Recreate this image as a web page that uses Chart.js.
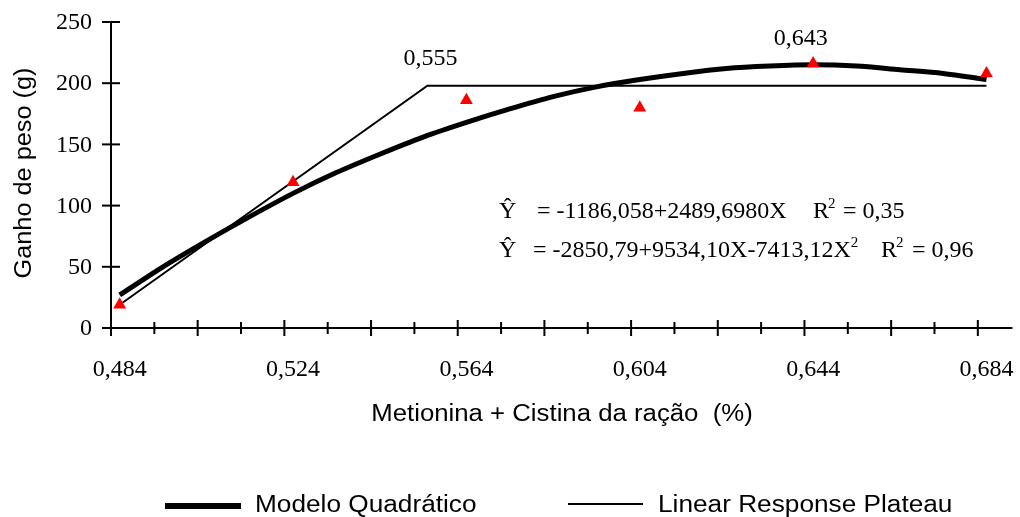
<!DOCTYPE html>
<html>
<head>
<meta charset="utf-8">
<script src="https://cdn.jsdelivr.net/npm/chart.js@4.4.0/dist/chart.umd.min.js"></script>
<style>
  body { margin: 0; background: #fff; }
  canvas { display: block; }
</style>
</head>
<body>
<canvas id="ganhoChart" width="1020" height="517"></canvas>
<script>
// --- dados ---
// níveis de Met+Cis na ração (%) e ganho de peso observado (g)
const niveis = [0.484, 0.524, 0.564, 0.604, 0.644, 0.684];
const ganhoObs = [19, 119, 186, 180, 216, 208];

// curva do modelo quadrático
const quadX = [0.484, 0.494, 0.504, 0.514, 0.524, 0.534, 0.544, 0.554, 0.564, 0.574, 0.584,
               0.594, 0.604, 0.614, 0.624, 0.634, 0.644, 0.654, 0.664, 0.674, 0.684];
const quadY = [27, 50, 71, 91, 110, 127, 142, 156, 168, 179, 189,
               197, 203, 208, 212, 214, 215, 214, 211, 208, 203];

// linear response plateau
const lrpX = [0.484, 0.555, 0.684];
const lrpY = [19, 198, 198];

// rótulos dos eixos
const xLabels = ['0,484', '0,524', '0,564', '0,604', '0,644', '0,684'];
const yTicks = [0, 50, 100, 150, 200, 250];

const SERIF = "'Liberation Serif', 'Times New Roman', serif";
const SANS = "'Liberation Sans', Arial, sans-serif";

const toPoints = (xs, ys) => xs.map((x, i) => ({ x: x, y: ys[i] }));

// texto sans um pouco alargado na horizontal
function textoLargo(ctx, txt, x, y, sx) {
    ctx.save();
    ctx.translate(x, y);
    ctx.scale(sx, 1);
    ctx.fillText(txt, 0, 0);
    ctx.restore();
}

// eixos, marcas, textos e legenda desenhados à mão
const desenhoExtra = {
    id: 'desenhoExtra',
    beforeDatasetsDraw(chart) {
        const { ctx, chartArea: a, scales: { x, y } } = chart;
        ctx.save();
        ctx.strokeStyle = '#000';
        ctx.lineWidth = 2;

        // eixo y
        const x0 = x.getPixelForValue(x.min);
        ctx.beginPath();
        ctx.moveTo(x0, y.getPixelForValue(250));
        ctx.lineTo(x0, y.getPixelForValue(0));
        ctx.stroke();
        yTicks.forEach(v => {
            const py = y.getPixelForValue(v);
            ctx.beginPath();
            ctx.moveTo(x0 - 9, py);
            ctx.lineTo(x0 + 9, py);
            ctx.stroke();
        });

        // eixo x
        const y0 = y.getPixelForValue(0);
        ctx.beginPath();
        ctx.moveTo(x0, y0);
        ctx.lineTo(a.right, y0);
        ctx.stroke();
        for (let k = 0; k <= 20; k++) {
            const px = x.getPixelForValue(0.482 + k * 0.01);
            const len = k % 2 === 0 ? 8 : 6;
            ctx.beginPath();
            ctx.moveTo(px, y0 - len);
            ctx.lineTo(px, y0 + len);
            ctx.stroke();
        }
        ctx.restore();
    },
    afterDraw(chart) {
        const { ctx, scales: { x, y } } = chart;
        ctx.save();
        ctx.fillStyle = '#000';

        // rótulos do eixo y
        ctx.font = '24px ' + SERIF;
        ctx.textAlign = 'right';
        ctx.textBaseline = 'middle';
        yTicks.forEach(v => ctx.fillText(String(v), 92, y.getPixelForValue(v) + 1));

        // rótulos do eixo x
        ctx.textAlign = 'center';
        ctx.textBaseline = 'alphabetic';
        niveis.forEach((v, i) => ctx.fillText(xLabels[i], x.getPixelForValue(v), 376));

        // pontos de máximo/plateau
        ctx.fillText('0,555', x.getPixelForValue(0.555) + 3, y.getPixelForValue(198) - 21);
        ctx.fillText('0,643', x.getPixelForValue(0.643) - 8, y.getPixelForValue(215) - 20);

        // equações
        ctx.textAlign = 'left';
        const sup = (txt, px, py) => {
            ctx.font = '15px ' + SERIF;
            ctx.fillText(txt, px, py - 10);
            ctx.font = '24px ' + SERIF;
        };
        ctx.font = '24px ' + SERIF;
        let bl = 218;
        ctx.fillText('Ŷ', 499, bl);
        ctx.fillText('= -1186,058+2489,6980X', 537, bl);
        ctx.fillText('R', 813, bl);
        sup('2', 813 + ctx.measureText('R').width - 1, bl);
        ctx.fillText('= 0,35', 843, bl);

        bl = 257;
        ctx.fillText('Ŷ', 499, bl);
        const eq2 = '= -2850,79+9534,10X-7413,12X';
        ctx.fillText(eq2, 533, bl);
        sup('2', 533 + ctx.measureText(eq2).width, bl);
        ctx.fillText('R', 881, bl);
        sup('2', 881 + ctx.measureText('R').width - 1, bl);
        ctx.fillText('= 0,96', 912, bl);

        // títulos dos eixos
        ctx.font = '23px ' + SANS;
        ctx.textAlign = 'center';
        textoLargo(ctx, 'Metionina + Cistina da ração  (%)', 562, 421, 1.12);
        ctx.save();
        ctx.translate(31, 173);
        ctx.rotate(-Math.PI / 2);
        textoLargo(ctx, 'Ganho de peso (g)', 0, 0, 1.1);
        ctx.restore();

        // legenda
        const ds = chart.data.datasets;
        ctx.strokeStyle = '#000';
        ctx.lineCap = 'butt';
        ctx.lineWidth = ds[1].borderWidth + 1;
        ctx.beginPath();
        ctx.moveTo(165, 506);
        ctx.lineTo(241, 506);
        ctx.stroke();
        ctx.lineWidth = ds[2].borderWidth;
        ctx.beginPath();
        ctx.moveTo(568, 504);
        ctx.lineTo(643, 504);
        ctx.stroke();
        ctx.textAlign = 'left';
        textoLargo(ctx, ds[1].label, 255, 512, 1.14);
        textoLargo(ctx, ds[2].label, 658, 512, 1.14);

        ctx.restore();
    }
};

new Chart(document.getElementById('ganhoChart'), {
    type: 'scatter',
    data: {
        datasets: [
            {
                label: 'Observado',
                data: toPoints(niveis, ganhoObs),
                pointStyle: 'triangle',
                pointRadius: 7.5,
                backgroundColor: '#ff0000',
                borderColor: '#ff0000',
                borderWidth: 0,
                showLine: false,
                clip: false,
                order: 0
            },
            {
                label: 'Modelo Quadrático',
                data: toPoints(quadX, quadY),
                showLine: true,
                borderColor: '#000',
                borderWidth: 5,
                pointRadius: 0,
                tension: 0.3,
                order: 1
            },
            {
                label: 'Linear Response Plateau',
                data: toPoints(lrpX, lrpY),
                showLine: true,
                borderColor: '#000',
                borderWidth: 2,
                pointRadius: 0,
                tension: 0,
                order: 2
            }
        ]
    },
    options: {
        responsive: false,
        animation: false,
        devicePixelRatio: 1,
        layout: { padding: { left: 111, top: 22, right: 5, bottom: 189 } },
        plugins: {
            legend: { display: false },
            tooltip: { enabled: false }
        },
        scales: {
            x: { type: 'linear', min: 0.482, max: 0.690, display: false },
            y: { min: 0, max: 250, display: false }
        }
    },
    plugins: [desenhoExtra]
});
</script>
</body>
</html>
